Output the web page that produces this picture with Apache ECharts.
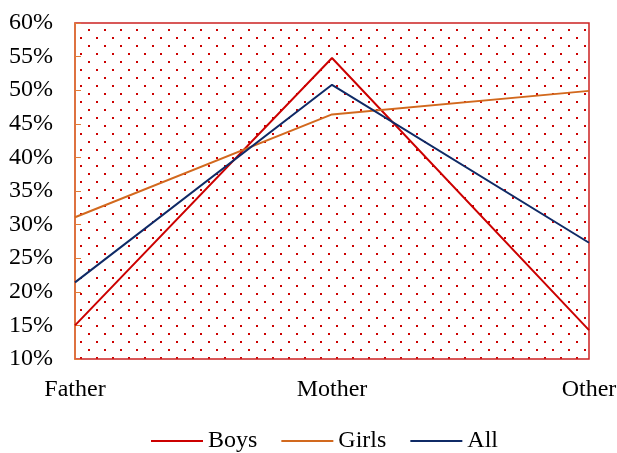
<!DOCTYPE html>
<html><head><meta charset="utf-8">
<script src="https://cdn.jsdelivr.net/npm/echarts@6/dist/echarts.min.js"></script>
<style>html,body{margin:0;padding:0;background:#fff}#c{width:617px;height:453px}</style>
</head><body><div id="c"></div>
<script>
const categories = ["Father", "Mother", "Other"];
const boys = [15.0, 54.8, 14.3];
const girls = [31.1, 46.4, 49.9];
const all = [21.4, 50.8, 27.3];
const yTicks = [10, 15, 20, 25, 30, 35, 40, 45, 50, 55, 60];

const pc = document.createElement('canvas');
pc.width = 16; pc.height = 16;
const g = pc.getContext('2d');
g.fillStyle = '#cc0000';
g.fillRect(8, 13, 2, 2);
g.fillRect(0, 5, 2, 2);

const font = '"Liberation Serif", "Times New Roman", serif';
const chart = echarts.init(document.getElementById('c'));
chart.setOption({
  animation: false,
  grid: {left: 75, right: 28, top: 23, bottom: 94, show: true, outerBoundsMode: 'none', containLabel: false,
    backgroundColor: {image: pc, repeat: 'repeat'},
    borderColor: '#cc2222', borderWidth: 1.5},
  legend: {bottom: -5, left: 146, itemWidth: 52, itemHeight: 2, itemGap: 24,
    icon: 'rect',
    textStyle: {fontFamily: font, fontSize: 24, color: '#000'},
    data: ['Boys', 'Girls', 'All']},
  xAxis: {type: 'category', data: categories, boundaryGap: false,
    axisLine: {show: false}, axisTick: {show: false},
    axisLabel: {fontFamily: font, fontSize: 24, color: '#000', margin: 19}},
  yAxis: {type: 'value', min: yTicks[0], max: yTicks[yTicks.length - 1], interval: 5,
    axisLine: {show: true, lineStyle: {color: '#e07b39', width: 1.5}},
    axisTick: {show: true, inside: true, length: 6, lineStyle: {color: '#e07b39'}},
    splitLine: {show: false},
    axisLabel: {fontFamily: font, fontSize: 24, color: '#000', margin: 22, formatter: v => v + '%'}},
  series: [
    {name: 'Boys', type: 'line', data: boys, symbol: 'none', lineStyle: {color: '#cc0000', width: 2}, itemStyle: {color: '#cc0000'}},
    {name: 'Girls', type: 'line', data: girls, symbol: 'none', lineStyle: {color: '#d2691e', width: 2}, itemStyle: {color: '#d2691e'}},
    {name: 'All', type: 'line', data: all, symbol: 'none', lineStyle: {color: '#0f2a66', width: 2}, itemStyle: {color: '#0f2a66'}}
  ]
});
</script></body></html>
